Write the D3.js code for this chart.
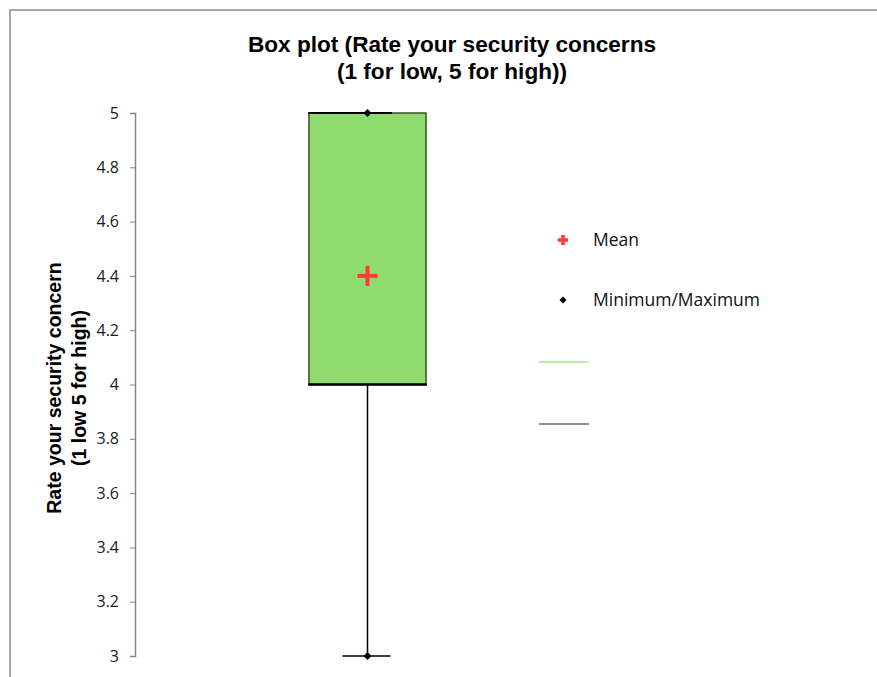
<!DOCTYPE html>
<html>
<head>
<meta charset="utf-8">
<script src="https://cdn.jsdelivr.net/npm/d3@7"></script>
<style>
  html, body { margin: 0; padding: 0; background: #fff; }
  svg { display: block; }
</style>
</head>
<body>
<svg id="chart" width="877" height="677"></svg>
<script>
// Summary statistics of the ratings (1 low, 5 high)
const statNames = ["min", "q1", "median", "q3", "max", "mean"];
const statValues = [3, 4, 5, 5, 5, 4.4];
const yTicks = [3, 3.2, 3.4, 3.6, 3.8, 4, 4.2, 4.4, 4.6, 4.8, 5];
const legendLabels = ["Mean", "Minimum/Maximum", "", ""];

const stats = {};
statNames.forEach((n, i) => stats[n] = statValues[i]);

const svg = d3.select("#chart");

// outer frame
svg.append("path")
  .attr("d", "M10,677 V10 H877")
  .attr("fill", "none").attr("stroke", "#a6a6a6").attr("stroke-width", 2);

const y = d3.scaleLinear().domain([3, 5]).range([656, 113]);
const x = d3.scaleBand().domain(["rating"]).range([250.5, 484.5]).paddingInner(0).paddingOuter(0.5);

// title
const title = svg.append("text")
  .attr("text-anchor", "middle")
  .attr("font-family", "Liberation Sans, Arial, sans-serif")
  .attr("font-weight", "bold").attr("font-size", 22.6).attr("fill", "#000");
title.append("tspan").attr("x", 452).attr("y", 52).text("Box plot (Rate your security concerns");
title.append("tspan").attr("x", 452).attr("y", 79).text("(1 for low, 5 for high))");

// y axis
const axis = svg.append("g").attr("transform", "translate(135,0)")
  .call(d3.axisLeft(y).tickValues(yTicks).tickSize(5).tickPadding(11)
    .tickFormat(d => String(+d.toFixed(1))));
axis.select(".domain").attr("stroke", "#868686").attr("stroke-width", 1.5);
axis.selectAll(".tick line").attr("stroke", "#868686").attr("stroke-width", 1);
axis.selectAll(".tick text")
  .attr("font-family", "Open Sans, Noto Sans, sans-serif")
  .attr("font-size", 16).attr("fill", "#1a1a1a");

// y axis title
const yTitle = svg.append("text")
  .attr("transform", "translate(61,388) rotate(-90)")
  .attr("text-anchor", "middle")
  .attr("font-family", "Liberation Sans, Arial, sans-serif")
  .attr("font-weight", "bold").attr("font-size", 19.5).attr("fill", "#000");
yTitle.append("tspan").attr("x", 0).attr("y", 0).text("Rate your security concern");
yTitle.append("tspan").attr("x", 0).attr("y", 25).text("(1 low 5 for high)");

const bx = x("rating"), bw = x.bandwidth(), cx = bx + bw / 2;

// whisker
svg.append("line")
  .attr("x1", cx).attr("x2", cx).attr("y1", y(stats.q1)).attr("y2", y(stats.min))
  .attr("stroke", "#000").attr("stroke-width", 1.5);
svg.append("line")
  .attr("x1", cx - 25).attr("x2", cx + 23).attr("y1", y(stats.min)).attr("y2", y(stats.min))
  .attr("stroke", "#000").attr("stroke-width", 1.5);

// box
svg.append("rect")
  .attr("x", bx).attr("y", y(stats.q3))
  .attr("width", bw).attr("height", y(stats.q1) - y(stats.q3))
  .attr("fill", "#8fdb6e").attr("stroke", "#33561f").attr("stroke-width", 1.5);
// lower quartile edge
svg.append("line")
  .attr("x1", bx - 0.75).attr("x2", bx + bw + 0.75).attr("y1", y(stats.q1)).attr("y2", y(stats.q1))
  .attr("stroke", "#000").attr("stroke-width", 2.5);
// median line
svg.append("line")
  .attr("x1", bx - 0.75).attr("x2", bx + bw * 0.71).attr("y1", y(stats.median)).attr("y2", y(stats.median))
  .attr("stroke", "#000").attr("stroke-width", 2);

// min / max markers (square diamonds)
const diamondPath = h => `M0,${-h}L${h},0L0,${h}L${-h},0Z`;
[stats.min, stats.max].forEach(v => {
  svg.append("path").attr("d", diamondPath(4))
    .attr("transform", `translate(${cx},${y(v)})`).attr("fill", "#000");
});

// mean marker
function plus(g, px, py, half, thick) {
  g.append("rect").attr("x", px - half).attr("y", py - thick / 2)
    .attr("width", half * 2).attr("height", thick).attr("fill", "#ff3b3b");
  g.append("rect").attr("x", px - thick / 2).attr("y", py - half)
    .attr("width", thick).attr("height", half * 2).attr("fill", "#ff3b3b");
}
plus(svg, cx, y(stats.mean), 10, 4);

// legend
const lg = svg.append("g")
  .attr("font-family", "Open Sans, Noto Sans, sans-serif").attr("font-size", 17.5).attr("fill", "#111");
const legendY = [240, 300, 362, 424];
plus(lg, 563, legendY[0], 5, 3.5);
lg.append("path").attr("d", diamondPath(3.5))
  .attr("transform", `translate(563,${legendY[1]})`).attr("fill", "#000");
lg.append("line").attr("x1", 539).attr("x2", 589).attr("y1", legendY[2]).attr("y2", legendY[2])
  .attr("stroke", "#7edb55").attr("stroke-width", 1.2);
lg.append("line").attr("x1", 539).attr("x2", 589).attr("y1", legendY[3]).attr("y2", legendY[3])
  .attr("stroke", "#222").attr("stroke-width", 1.2);
legendLabels.forEach((t, i) => {
  if (t) lg.append("text").attr("x", 593).attr("y", legendY[i] + 6).text(t);
});
</script>
</body>
</html>
